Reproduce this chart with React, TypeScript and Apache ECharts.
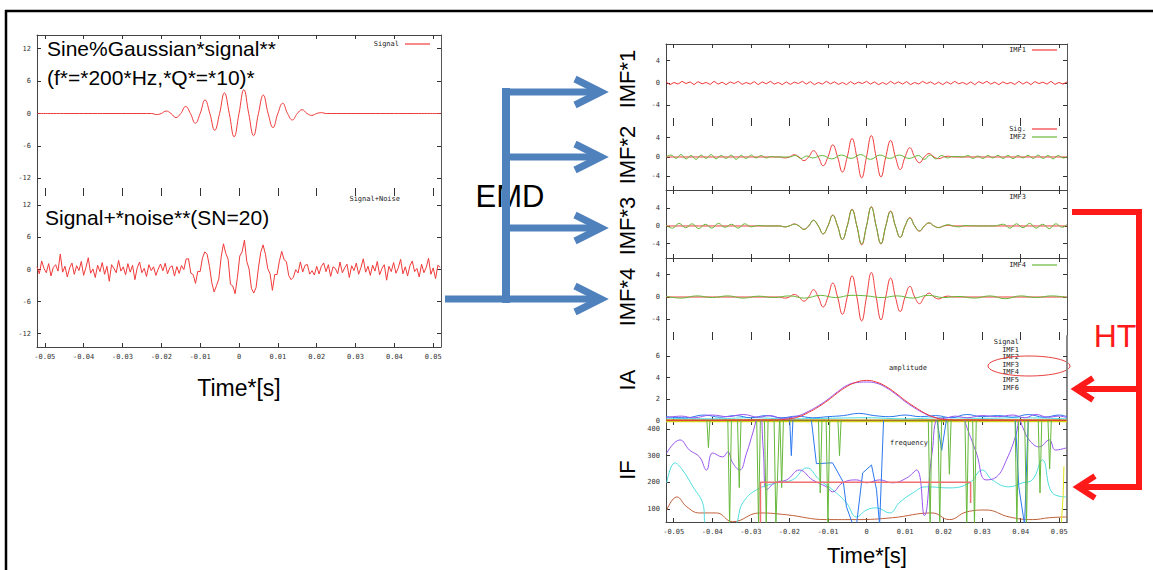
import React, { useEffect, useRef } from "react";
import * as echarts from "echarts";

// ---------- tick values ----------
const xTicks = [-0.05, -0.04, -0.03, -0.02, -0.01, 0, 0.01, 0.02, 0.03, 0.04, 0.05];
const sigTicks = [-12, -6, 0, 6, 12];
const imfTicks = [-4, 0, 4];
const iaTicks = [0, 2, 4, 6];
const ifTicks = [100, 200, 300, 400];

// ---------- clean sine-Gaussian signal (time s, value) ----------
const sigTime = [-0.052, -0.0225, -0.02125, -0.02, -0.01875, -0.0175, -0.01625, -0.015, -0.01375, -0.0125,
  -0.01125, -0.01, -0.00875, -0.0075, -0.00625, -0.005, -0.00375, -0.0025, -0.00125, 0, 0.00125, 0.0025,
  0.00375, 0.005, 0.00625, 0.0075, 0.00875, 0.01, 0.01125, 0.0125, 0.01375, 0.015, 0.01625, 0.0175, 0.01875,
  0.02, 0.02125, 0.0225, 0.052];
const sigValue = [0, 0, -0.2, 0, 0.45, 0, -0.75, 0, 1.3, 0, -1.8, 0, 2.5, 0, -3.1, 0, 3.8, 0, -4.3, 0, 4.4, 0,
  -4.1, 0, 3.4, 0, -2.6, 0, 1.9, 0, -1.2, 0, 0.7, 0, -0.35, 0, 0.15, 0, 0];

// ---------- signal + noise (sampled every 0.0006 s from -0.052 s) ----------
const noisyStart = -0.052;
const noisyStep = 0.0006;
const noisyValue = [
  0.5, -0.8, 1.6, 0.2, -0.6, 1.1, -1.2, 0.4, 0.9, -0.3, 2.9, -0.5, 0.6, -1.4, 0.3, 1.2, -0.9, 0.7, -0.2, 1.5,
  -1.1, 0.4, 2.2, -0.7, 0.1, -1.5, 0.8, -0.4, 1.3, -0.9, 0.6, -2.2, 0.9, 0.2, -0.6, 1.7, -0.3, 0.5, -1.0, 1.1,
  -0.5, 0.8, -1.9, 0.3, 1.4, -0.6, 0.2, -1.3, 0.9, -0.2,
  0.51, -1.1, 0.09, 1.03, -0.24, 1.18, -0.79, 0.38, 0.68, -1.23, 0.54, -0.73, 0.75, -0.03, 1.98, 2.02, -0.69,
  -0.97, -2.6, -0.34, -0.4, 2.18, 3.3, 2.84, 0.55, -2.46, -4.2, -3.03, -1.78, 2.28, 4.81, 3.02, 1.93, -2.78,
  -3.08, -4.53, -1.47, 2.52, 3.3, 5.5, 1.53, 0.07, -3.52, -4.4, -3.37, 0.3, 3.23, 4.6, 2.85, 0.16, -0.79, -3.9,
  -0.94, -0.94, 1.56, 3.4, 1.84, 1.47, -1.13, -1.9, -1.44, -0.03, -0.66, 1.42, -0.46, 0.78, 0.93, -0.87, -0.22,
  -1.04, 0.6, -0.83, 0.6, 1.23,
  -0.4, 0.9, -1.3, 0.5, 0.2, -0.8, 1.4, -0.6, 0.3, 1.0, -1.5, 0.7, -0.2, 1.2, -0.9, 0.4, 2.0, -0.5, 0.6, -1.1,
  0.8, -0.3, 1.5, -1.0, 0.2, 0.9, -2.0, 0.6, -0.4, 1.3, -0.7, 0.3, 1.9, -0.8, 0.5, -1.2, 0.7, 1.6, -0.4, 0.2,
  -1.4, 1.0, -0.6, 0.4, 2.1, -0.9, 0.3, -1.7, 0.8, 0.4,
];

// ---------- IMF1 (sampled every 0.00104 s from -0.052 s) ----------
const imf1Start = -0.052;
const imf1Step = 0.00104;
const imf1Value = [
  0.2, -0.3, 0.1, -0.2, 0.3, -0.1, 0.2, -0.3, 0.25, -0.15, 0.1, -0.25, 0.3, -0.2, 0.15, -0.3, 0.2, -0.1, 0.3, -0.25,
  0.1, -0.2, 0.25, -0.3, 0.2, -0.15, 0.3, -0.2, 0.1, -0.3, 0.2, -0.25, 0.15, -0.1, 0.3, -0.2, 0.25, -0.3, 0.1, -0.2,
  0.3, -0.15, 0.2, -0.25, 0.1, -0.3, 0.25, -0.2, 0.15, -0.1, 0.3, -0.2, 0.2, -0.3, 0.1, -0.25, 0.3, -0.15, 0.2, -0.2,
  0.25, -0.3, 0.1, -0.2, 0.3, -0.1, 0.2, -0.25, 0.15, -0.3, 0.2, -0.2, 0.3, -0.15, 0.1, -0.25, 0.2, -0.3, 0.25, -0.1,
  0.3, -0.2, 0.15, -0.3, 0.2, -0.15, 0.1, -0.25, 0.3, -0.2, 0.2, -0.3, 0.25, -0.1, 0.15, -0.2, 0.3, -0.25, 0.1, -0.2, 0.2,
];

// ---------- IMF2, IMF3, IMF4 ([time, value]) ----------
const imf2 = [[-0.052, 0], [-0.0507, 0.4], [-0.0494, -0.3], [-0.0481, 0.5], [-0.0468, -0.4], [-0.0455, 0.3],
  [-0.0442, -0.5], [-0.0429, 0.4], [-0.0416, -0.3], [-0.0403, 0.5], [-0.039, -0.4], [-0.0377, 0.3], [-0.0364, -0.3],
  [-0.0351, 0.4], [-0.0338, -0.5], [-0.0325, 0.3], [-0.0312, -0.3], [-0.0299, 0.4], [-0.0286, -0.2], [-0.0273, 0.3],
  [-0.026, -0.2], [-0.0247, 0.1], [-0.0234, 0], [-0.02, 0], [-0.0185, 0.3], [-0.017, -0.3], [-0.0155, 0.2],
  [-0.014, -0.2], [-0.0115, 0.3], [-0.009, -0.4], [-0.0065, 0.4], [-0.004, -0.3], [-0.0015, 0.5], [0.001, -0.5],
  [0.0035, 0.4], [0.006, -0.3], [0.0085, 0.4], [0.011, -0.3], [0.0135, 0.3], [0.015, -0.5], [0.0165, 0.4],
  [0.018, -0.4], [0.0195, 0.3], [0.021, -0.2], [0.0225, 0.1], [0.025, 0], [0.0263, 0.3], [0.0276, -0.3],
  [0.0289, 0.2], [0.0302, -0.3], [0.0315, 0.3], [0.0328, -0.2], [0.0341, 0.35], [0.0354, -0.3], [0.0367, 0.3],
  [0.038, -0.35], [0.0393, 0.3], [0.0406, -0.2], [0.0419, 0.35], [0.0432, -0.3], [0.0445, 0.4], [0.0458, -0.3],
  [0.0471, 0.3], [0.0484, -0.4], [0.0497, 0.3], [0.051, -0.2], [0.052, 0]];

const imf3 = [[-0.052, 0.2], [-0.0503, -0.5], [-0.0486, 0.6], [-0.0469, -0.4], [-0.0452, 0.5], [-0.0435, -0.6],
  [-0.0418, 0.4], [-0.0401, -0.5], [-0.0384, 0.6], [-0.0367, -0.3], [-0.035, 0.4], [-0.0333, -0.5], [-0.0316, 0.5],
  [-0.0299, -0.2], [-0.0282, 0.1], [-0.026, 0], [-0.0225, 0], [-0.02125, -0.2], [-0.02, 0], [-0.01875, 0.4],
  [-0.0175, 0], [-0.01625, -0.8], [-0.015, 0], [-0.01375, 1.3], [-0.0125, 0], [-0.01125, -1.8], [-0.01, 0],
  [-0.00875, 2.4], [-0.0075, 0], [-0.00625, -3.1], [-0.005, 0], [-0.00375, 3.7], [-0.0025, 0], [-0.00125, -4.1],
  [0, 0], [0.00125, 4.3], [0.0025, 0], [0.00375, -4.0], [0.005, 0], [0.00625, 3.3], [0.0075, 0], [0.00875, -2.6],
  [0.01, 0], [0.01125, 1.8], [0.0125, 0], [0.01375, -1.1], [0.015, 0], [0.01625, 0.7], [0.0175, 0], [0.01875, -0.4],
  [0.02, 0], [0.02125, 0.3], [0.0225, 0], [0.024, -0.2], [0.0255, 0.1], [0.029, 0], [0.033, 0], [0.0355, 0.4],
  [0.0372, -0.5], [0.0389, 0.5], [0.0406, -0.4], [0.0423, 0.6], [0.044, -0.5], [0.0457, 0.4], [0.0474, -0.6],
  [0.0491, 0.5], [0.0508, -0.3], [0.052, 0.4]];

const imf4 = [[-0.052, 0.1], [-0.048, -0.2], [-0.044, 0.2], [-0.04, -0.1], [-0.036, 0.2], [-0.032, -0.2],
  [-0.028, 0.15], [-0.024, -0.1], [-0.02, 0.2], [-0.016, -0.2], [-0.012, 0.3], [-0.008, -0.1], [-0.004, 0.3],
  [0, 0.2], [0.004, -0.1], [0.008, 0.2], [0.012, -0.2], [0.016, 0.3], [0.02, -0.1], [0.024, 0.1], [0.028, -0.2],
  [0.032, 0.2], [0.036, -0.3], [0.04, 0.2], [0.044, -0.1], [0.048, 0.2], [0.052, -0.1]];

// ---------- instantaneous amplitude ----------
const iaSignal = [[-0.052, 0.05], [-0.025, 0.08], [-0.02, 0.2], [-0.0175, 0.4], [-0.015, 0.8], [-0.0125, 1.3],
  [-0.01, 1.9], [-0.0075, 2.6], [-0.005, 3.2], [-0.0025, 3.6], [0, 3.75], [0.0025, 3.6], [0.005, 3.2],
  [0.0075, 2.6], [0.01, 1.9], [0.0125, 1.3], [0.015, 0.75], [0.0175, 0.35], [0.02, 0.15], [0.025, 0.08], [0.052, 0.05]];
const iaImf3 = [[-0.052, 0.3], [-0.048, 0.45], [-0.045, 0.3], [-0.04, 0.55], [-0.036, 0.4], [-0.032, 0.6],
  [-0.028, 0.35], [-0.025, 0.5], [-0.022, 0.25], [-0.02, 0.3], [-0.0175, 0.5], [-0.015, 0.9], [-0.0125, 1.4],
  [-0.01, 2.0], [-0.0075, 2.7], [-0.005, 3.3], [-0.0025, 3.55], [0, 3.6], [0.0025, 3.5], [0.005, 3.1], [0.0075, 2.5],
  [0.01, 1.8], [0.0125, 1.2], [0.015, 0.7], [0.0175, 0.35], [0.02, 0.25], [0.023, 0.45], [0.026, 0.3], [0.03, 0.5],
  [0.034, 0.4], [0.038, 0.55], [0.041, 0.3], [0.044, 0.6], [0.047, 0.35], [0.05, 0.45], [0.052, 0.3]];
const iaImf2 = [[-0.052, 0.4], [-0.047, 0.3], [-0.042, 0.55], [-0.038, 0.35], [-0.034, 0.5], [-0.03, 0.3],
  [-0.026, 0.5], [-0.022, 0.3], [-0.018, 0.45], [-0.014, 0.3], [-0.01, 0.4], [-0.006, 0.5], [-0.002, 0.7],
  [0.002, 0.5], [0.006, 0.4], [0.01, 0.55], [0.014, 0.4], [0.018, 0.5], [0.022, 0.3], [0.026, 0.6], [0.03, 0.4],
  [0.034, 0.5], [0.038, 0.35], [0.042, 0.6], [0.046, 0.35], [0.05, 0.55], [0.052, 0.4]];
const iaImf1 = [[-0.052, 0.25], [-0.04, 0.2], [-0.03, 0.3], [-0.02, 0.2], [-0.01, 0.25], [0, 0.3], [0.01, 0.2],
  [0.02, 0.3], [0.03, 0.25], [0.04, 0.3], [0.052, 0.2]];
const iaImf4 = [[-0.052, 0.1], [-0.03, 0.12], [0, 0.08], [0.03, 0.12], [0.052, 0.1]];
const iaImf5 = [[-0.052, 0.02], [0.052, 0.02]];
const iaImf6 = [[-0.052, 0], [0.052, 0]];

// ---------- instantaneous frequency (Hz) ----------
const ifSignal = [[-0.0275, 30], [-0.0275, 200], [0.027, 200], [0.027, 122]];
const ifImf3 = [[-0.0518, 310], [-0.0484, 359], [-0.0459, 321], [-0.0433, 295], [-0.0415, 246], [-0.0399, 310],
  [-0.0373, 295], [-0.036, 314], [-0.0347, 273], [-0.0329, 246], [-0.0311, 310], [-0.0295, 385], [-0.0277, 470],
  [-0.0268, 330], [-0.0259, 172], [-0.0235, 200], [-0.0207, 209], [-0.0174, 246], [-0.014, 209], [-0.0104, 183],
  [-0.0088, 164], [-0.0062, 198], [-0.0026, 209], [0, 198], [0.0034, 209], [0.0067, 198], [0.0104, 216],
  [0.013, 246], [0.015, 75], [0.017, 310], [0.019, 460], [0.024, 480], [0.026, 407], [0.0285, 310], [0.031, 209],
  [0.0337, 220], [0.0363, 284], [0.0389, 385], [0.0396, 440], [0.0405, 407], [0.0422, 359], [0.0448, 333],
  [0.0474, 359], [0.049, 321], [0.0518, 329]];
const ifImf4 = [[-0.0518, 198], [-0.0497, 273], [-0.0477, 246], [-0.045, 183], [-0.0425, 123], [-0.0415, 40],
  [-0.0347, 40], [-0.0321, 123], [-0.0285, 172], [-0.0233, 198], [-0.0192, 209], [-0.0155, 254], [-0.0122, 209],
  [-0.0088, 172], [-0.0052, 123], [-0.0026, 70], [0, 96], [0.0026, 104], [0.006, 85], [0.0085, 123], [0.012, 160],
  [0.0155, 183], [0.0215, 179], [0.0267, 198], [0.03, 246], [0.0326, 209], [0.037, 183], [0.0404, 198],
  [0.043, 209], [0.0456, 284], [0.0482, 160], [0.0518, 145]];
const ifImf5 = [[-0.0518, 96], [-0.0492, 145], [-0.0466, 108], [-0.0433, 85], [-0.0389, 85], [-0.0347, 52],
  [-0.0277, 85], [-0.0207, 78], [-0.0104, 60], [-0.0026, 60], [0.0067, 67], [0.017, 85], [0.0215, 60], [0.026, 89],
  [0.031, 96], [0.037, 70], [0.043, 60], [0.0474, 67], [0.0518, 70]];
const ifImf2 = [[-0.02, 460], [-0.0195, 300], [-0.019, 460], [-0.0145, 460], [-0.013, 270], [-0.0088, 273],
  [-0.006, 200], [-0.0052, 108], [-0.0035, 40], [-0.0026, 40], [-0.001, 235], [0.0013, 265], [0.0026, 172],
  [0.0034, 40], [0.0045, 460], [0.018, 460], [0.0195, 320], [0.021, 460], [0.0385, 460], [0.0395, 183],
  [0.041, 40], [0.042, 460]];
const ifImf1 = [[-0.0415, 460], [-0.041, 330], [-0.0405, 460], [-0.036, 460], [-0.0355, 40], [-0.035, 460],
  [-0.0335, 460], [-0.033, 180], [-0.0325, 460], [-0.0285, 460], [-0.028, 40], [-0.0275, 460], [-0.0265, 460],
  [-0.026, 40], [-0.0255, 460], [-0.024, 460], [-0.0235, 40], [-0.0225, 460], [-0.022, 180], [-0.0215, 460],
  [-0.0125, 460], [-0.012, 160], [-0.0115, 460], [-0.0105, 460], [-0.01, 40], [-0.0095, 460], [-0.0075, 460],
  [-0.007, 300], [-0.0065, 460], [0.016, 460], [0.0165, 40], [0.017, 460], [0.0185, 460], [0.019, 40],
  [0.0195, 460], [0.021, 460], [0.0215, 230], [0.022, 460], [0.0255, 460], [0.026, 40], [0.0265, 460],
  [0.0275, 460], [0.028, 40], [0.0285, 460], [0.0385, 460], [0.039, 40], [0.0395, 460], [0.041, 460],
  [0.0415, 40], [0.042, 460], [0.0445, 460], [0.045, 160], [0.0455, 460], [0.047, 460], [0.0475, 250], [0.048, 460]];
const ifImf6 = [[0.0505, 40], [0.051, 150], [0.0512, 260]];

const iaLegend = ["Signal", "IMF1", "IMF2", "IMF3", "IMF4", "IMF5", "IMF6"];

// ---------- colours ----------
const RED = "#f03a3a";
const GREEN = "#66b83a";
const BLUE_ARROW = "#4f81bd";
const PURPLE = "#9a55f0";
const BLUE = "#2a78f0";
const CYAN = "#4fdede";
const BROWN = "#c0603a";
const YELLOW = "#e2e21a";
const OLIVE = "#5a6a10";

const zip = (ts: number[], vs: number[]) => ts.map((t, k) => [t, vs[k]]);
const sampled = (t0: number, dt: number, vs: number[]) => vs.map((v, k) => [t0 + k * dt, v]);

type Panel = {
  left: number; top: number; width: number; height: number;
  yMin: number; yMax: number; yTicks: number[];
  xLabels: boolean; lineTop: boolean; lineBottom: boolean; rightColor: string; rightWidth: number;
};

const panels: Panel[] = [
  { left: 37, top: 35, width: 404, height: 157, yMin: -14.5, yMax: 14.5, yTicks: sigTicks, xLabels: false, lineTop: true, lineBottom: false, rightColor: "#555", rightWidth: 1 },
  { left: 37, top: 192, width: 404, height: 155, yMin: -14.5, yMax: 14.5, yTicks: sigTicks, xLabels: true, lineTop: false, lineBottom: true, rightColor: "#555", rightWidth: 1 },
  { left: 666, top: 44, width: 401, height: 78, yMin: -7, yMax: 7, yTicks: imfTicks, xLabels: false, lineTop: true, lineBottom: false, rightColor: "#555", rightWidth: 1 },
  { left: 666, top: 122, width: 401, height: 68, yMin: -6.8, yMax: 7.2, yTicks: imfTicks, xLabels: false, lineTop: false, lineBottom: true, rightColor: "#555", rightWidth: 1 },
  { left: 666, top: 190, width: 401, height: 68, yMin: -7.3, yMax: 8.2, yTicks: imfTicks, xLabels: false, lineTop: false, lineBottom: true, rightColor: "#555", rightWidth: 1 },
  { left: 666, top: 258, width: 401, height: 78, yMin: -7, yMax: 7, yTicks: imfTicks, xLabels: false, lineTop: false, lineBottom: false, rightColor: "#555", rightWidth: 1 },
  { left: 666, top: 336, width: 401, height: 85, yMin: 0, yMax: 7.85, yTicks: iaTicks, xLabels: false, lineTop: false, lineBottom: false, rightColor: "#888", rightWidth: 2 },
  { left: 666, top: 421, width: 401, height: 101, yMin: 51, yMax: 430, yTicks: ifTicks, xLabels: true, lineTop: false, lineBottom: true, rightColor: "#888", rightWidth: 2 },
];

const tickFont = { fontSize: 7, fontFamily: "DejaVu Sans Mono", color: "#333" };

export default function App() {
  const ref = useRef<HTMLDivElement>(null);
  useEffect(() => {
    const el = ref.current;
    if (!el) return;
    const chart = echarts.init(el, null, { renderer: "svg" });

    const grid: any[] = [];
    const xAxis: any[] = [];
    const yAxis: any[] = [];
    panels.forEach((p, i) => {
      grid.push({ left: p.left, top: p.top, width: p.width, height: p.height, containLabel: false });
      const tick = { show: true, inside: true, length: 4, lineStyle: { color: "#333", width: 1 } };
      xAxis.push({
        type: "value", gridIndex: i, position: "bottom", min: -0.052, max: 0.052,
        axisLine: { show: p.lineBottom, onZero: false, lineStyle: { color: "#444", width: 1 } },
        axisTick: { ...tick, customValues: xTicks },
        axisLabel: { show: p.xLabels, customValues: xTicks, margin: 6, formatter: (v: number) => (v === 0 ? "0" : v.toFixed(2)), ...tickFont },
        splitLine: { show: false },
      });
      xAxis.push({
        type: "value", gridIndex: i, position: "top", min: -0.052, max: 0.052,
        axisLine: { show: p.lineTop, onZero: false, lineStyle: { color: "#444", width: 1 } },
        axisTick: { ...tick, customValues: xTicks },
        axisLabel: { show: false },
        splitLine: { show: false },
      });
      yAxis.push({
        type: "value", gridIndex: i, position: "left", min: p.yMin, max: p.yMax,
        axisLine: { show: true, onZero: false, lineStyle: { color: "#444", width: 1 } },
        axisTick: { ...tick, customValues: p.yTicks },
        axisLabel: { show: true, customValues: p.yTicks, margin: 6, ...tickFont },
        splitLine: { show: false },
      });
      yAxis.push({
        type: "value", gridIndex: i, position: "right", min: p.yMin, max: p.yMax,
        axisLine: { show: true, onZero: false, lineStyle: { color: p.rightColor, width: p.rightWidth } },
        axisTick: { ...tick, customValues: p.yTicks },
        axisLabel: { show: false },
        splitLine: { show: false },
      });
    });

    const line = (i: number, data: any[], color: string, extra: any = {}) => ({
      type: "line", xAxisIndex: 2 * i, yAxisIndex: 2 * i, data, showSymbol: false, symbol: "none",
      silent: true, clip: true, lineStyle: { color, width: 1 }, itemStyle: { color }, ...extra,
    });
    const smooth = { smooth: 0.45 };
    const signal = zip(sigTime, sigValue);

    const series = [
      line(0, signal, RED, smooth),
      line(1, sampled(noisyStart, noisyStep, noisyValue), RED),
      line(2, sampled(imf1Start, imf1Step, imf1Value), RED),
      line(3, signal, RED, smooth),
      line(3, imf2, GREEN, smooth),
      line(4, signal, RED, smooth),
      line(4, imf3, GREEN, smooth),
      line(5, signal, RED, smooth),
      line(5, imf4, GREEN, smooth),
      line(6, iaImf6, YELLOW, { lineStyle: { color: YELLOW, width: 3 } }),
      line(6, iaImf5, OLIVE),
      line(6, iaImf4, BROWN, smooth),
      line(6, iaImf1, CYAN, smooth),
      line(6, iaImf2, BLUE, smooth),
      line(6, iaImf3, PURPLE, smooth),
      line(6, iaSignal, RED, smooth),
      line(7, ifImf5, BROWN, smooth),
      line(7, ifImf4, CYAN, smooth),
      line(7, ifImf3, PURPLE, smooth),
      line(7, ifImf2, BLUE),
      line(7, ifImf1, GREEN),
      line(7, ifSignal, RED, { lineStyle: { color: "#f07070", width: 1.5 } }),
      line(7, ifImf6, YELLOW),
    ];

    const big = (text: string, x: number, y: number, size: number, extra: any = {}, style: any = {}) => ({
      type: "text", x, y, ...extra,
      style: { text, fontSize: size, fontFamily: "Liberation Sans", fill: "#000", align: "left", verticalAlign: "middle", ...style },
    });
    const small = (text: string, x: number, y: number, align = "right") => ({
      type: "text", x, y, style: { text, fontSize: 7, fontFamily: "DejaVu Sans Mono", fill: "#222", align, verticalAlign: "middle" },
    });
    const seg = (x1: number, y1: number, x2: number, y2: number, stroke: string, w: number) => ({
      type: "line", shape: { x1, y1, x2, y2 }, style: { stroke, lineWidth: w },
    });
    const chev = (pts: number[][], stroke: string, w: number) => ({
      type: "polyline", shape: { points: pts }, style: { stroke, lineWidth: w, fill: null, lineJoin: "miter" },
    });
    const rot = (text: string, x: number, y: number) => big(text, x, y, 22, { rotation: Math.PI / 2 }, { align: "center" });

    const graphic: any[] = [
      // frame
      seg(5, 11, 1153, 11, "#000", 2.5),
      seg(6, 10, 6, 570, "#000", 2.5),
      // titles
      big("Sine%Gaussian*signal**", 47, 48, 21),
      big("(f*=*200*Hz,*Q*=*10)*", 47, 77, 21),
      big("Signal+*noise**(SN=20)", 45, 217, 21),
      big("Time*[s]", 239, 388, 23, {}, { align: "center" }),
      big("Time*[s]", 867, 555, 22, {}, { align: "center" }),
      big("EMD", 510, 196, 31, {}, { align: "center" }),
      big("HT", 1115, 336, 32, {}, { align: "center", fill: "#ff1a1a" }),
      rot("IMF*1", 627, 79),
      rot("IMF*2", 627, 155),
      rot("IMF*3", 627, 226),
      rot("IMF*4", 627, 297),
      rot("IA", 627, 380),
      rot("IF", 627, 470),
      // small legends
      small("Signal", 399, 44),
      seg(405, 44, 430, 44, RED, 1.2),
      small("Signal+Noise", 400, 199),
      small("IMF1", 1026, 50),
      seg(1032, 50, 1057, 50, RED, 1.2),
      small("Sig.", 1026, 129),
      seg(1032, 129, 1057, 129, RED, 1.2),
      small("IMF2", 1026, 137),
      seg(1032, 137, 1057, 137, GREEN, 1.2),
      small("IMF3", 1026, 197),
      small("IMF4", 1026, 265),
      seg(1032, 265, 1057, 265, GREEN, 1.2),
      small("amplitude", 908, 368, "center"),
      small("frequency", 909, 443, "center"),
      ...iaLegend.map((s, k) => small(s, 1019, 342 + k * 7.6)),
      { type: "ellipse", shape: { cx: 1029, cy: 366, rx: 41, ry: 10 }, style: { stroke: "#e84040", lineWidth: 1, fill: null } },
      // blue EMD arrows
      seg(506, 88, 506, 303, BLUE_ARROW, 8),
      seg(445, 299, 600, 299, BLUE_ARROW, 7),
      seg(506, 92, 600, 92, BLUE_ARROW, 7),
      seg(506, 157, 600, 157, BLUE_ARROW, 7),
      seg(506, 228, 600, 228, BLUE_ARROW, 7),
      chev([[575, 79], [601, 92], [575, 105]], BLUE_ARROW, 7),
      chev([[575, 144], [601, 157], [575, 170]], BLUE_ARROW, 7),
      chev([[575, 215], [601, 228], [575, 241]], BLUE_ARROW, 7),
      chev([[575, 286], [601, 299], [575, 312]], BLUE_ARROW, 7),
      // red HT bracket
      { type: "polyline", shape: { points: [[1072, 212], [1139, 212], [1139, 487], [1078, 487]] }, style: { stroke: "#ff1a1a", lineWidth: 6, fill: null, lineJoin: "miter" } },
      seg(1139, 389, 1076, 389, "#ff1a1a", 6),
      chev([[1093, 378], [1076, 389], [1093, 400]], "#ff1a1a", 6),
      chev([[1095, 476], [1078, 487], [1095, 498]], "#ff1a1a", 6),
    ];

    chart.setOption({
      animation: false,
      backgroundColor: "#fff",
      grid, xAxis, yAxis, series, graphic,
    });
    return () => chart.dispose();
  }, []);
  return (
    <div
      ref={ref}
      style={{ position: "fixed", left: 0, top: 0, width: 1153, height: 570, background: "#fff" }}
    />
  );
}
